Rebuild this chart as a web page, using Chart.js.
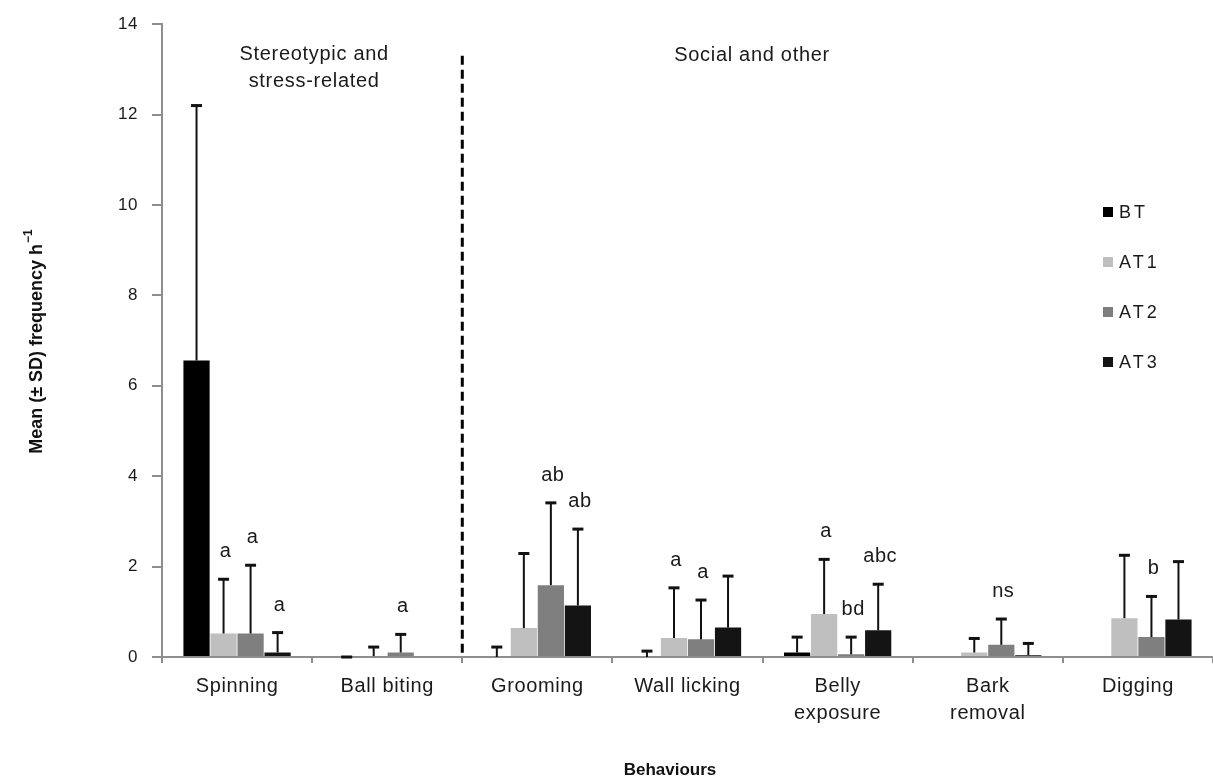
<!DOCTYPE html>
<html><head><meta charset="utf-8">
<script src="https://cdn.jsdelivr.net/npm/chart.js@4.4.1/dist/chart.umd.min.js"></script>
<style>html,body{margin:0;padding:0;background:#fff}#wrap{width:1213px;height:783px;position:relative}</style>
</head><body><div id="wrap"><canvas id="c"></canvas></div>
<script>
// ---- data ----
const categories = ['Spinning', 'Ball biting', 'Grooming', 'Wall licking', ['Belly', 'exposure'], ['Bark', 'removal'], 'Digging'];
const seriesNames = ['BT', 'AT1', 'AT2', 'AT3'];
const BT     = [6.56, 0.00, 0.00, 0.00, 0.10, 0.00, 0.00];
const BT_SD  = [5.64, 0.00, 0.22, 0.13, 0.34, null, null];
const AT1    = [0.52, 0.02, 0.64, 0.42, 0.95, 0.10, 0.86];
const AT1_SD = [1.20, 0.20, 1.65, 1.11, 1.21, 0.31, 1.39];
const AT2    = [0.52, 0.10, 1.59, 0.39, 0.06, 0.27, 0.44];
const AT2_SD = [1.51, 0.40, 1.82, 0.87, 0.38, 0.57, 0.90];
const AT3    = [0.10, 0.00, 1.14, 0.65, 0.59, 0.04, 0.83];
const AT3_SD = [0.44, null, 1.69, 1.14, 1.02, 0.26, 1.28];
const BT_LETTERS  = ['', '', '', '', '', '', ''];
const AT1_LETTERS = ['a', '', '', 'a', 'a', '', ''];
const AT2_LETTERS = ['a', 'a', 'ab', 'a', 'bd', 'ns', 'b'];
const AT3_LETTERS = ['a', '', 'ab', '', 'abc', '', ''];
const yTicks = [0, 2, 4, 6, 8, 10, 12, 14];
const groupTitles = [['Stereotypic and', 'stress-related'], ['Social and other']];
const yTitle = 'Mean (\u00B1 SD) frequency h';
const yTitleSup = '\u22121';
const xTitle = 'Behaviours';

// ---- styles ----
const colors = ['#000000', '#bfbfbf', '#7f7f7f', '#141414'];
const FONT = "'Liberation Sans', Arial, Helvetica, sans-serif";
Chart.defaults.font.family = FONT;

const values = [BT, AT1, AT2, AT3];
const sds = [BT_SD, AT1_SD, AT2_SD, AT3_SD];
const letters = [BT_LETTERS, AT1_LETTERS, AT2_LETTERS, AT3_LETTERS];

const datasets = seriesNames.map((n, i) => ({
  label: n,
  data: values[i],
  sd: sds[i],
  letters: letters[i],
  backgroundColor: colors[i],
  borderWidth: 0,
  categoryPercentage: 0.72,
  barPercentage: 0.97
}));

const overlay = {
  id: 'overlay',
  beforeDraw(chart) { chart.ctx.letterSpacing = '0.6px'; },
  afterDatasetsDraw(chart) {
    const ctx = chart.ctx, y = chart.scales.y;
    ctx.save();
    ctx.strokeStyle = '#111';
    chart.data.datasets.forEach((ds, di) => {
      const meta = chart.getDatasetMeta(di);
      meta.data.forEach((bar, i) => {
        const sd = ds.sd[i];
        if (sd === null || sd === undefined) return;
        const base = y.getPixelForValue(ds.data[i]);
        const top = y.getPixelForValue(ds.data[i] + sd);
        ctx.lineWidth = 2;
        ctx.beginPath(); ctx.moveTo(bar.x, base); ctx.lineTo(bar.x, top); ctx.stroke();
        ctx.lineWidth = 3;
        ctx.beginPath(); ctx.moveTo(bar.x - 5.5, top); ctx.lineTo(bar.x + 5.5, top); ctx.stroke();
      });
    });
    ctx.restore();
  },
  afterDraw(chart) {
    const ctx = chart.ctx, y = chart.scales.y, x = chart.scales.x, area = chart.chartArea;
    ctx.save();
    // significance letters
    ctx.fillStyle = '#1a1a1a';
    ctx.font = '20px ' + FONT;
    ctx.letterSpacing = '0.5px';
    ctx.textAlign = 'center';
    ctx.textBaseline = 'alphabetic';
    chart.data.datasets.forEach((ds, di) => {
      const meta = chart.getDatasetMeta(di);
      meta.data.forEach((bar, i) => {
        const t = ds.letters[i];
        if (!t) return;
        const top = y.getPixelForValue(ds.data[i] + (ds.sd[i] || 0));
        ctx.fillText(t, bar.x + 2, top - 22);
      });
    });
    // dashed divider between groups
    const divX = x.getPixelForValue(1.5);
    ctx.strokeStyle = '#000';
    ctx.lineWidth = 3;
    ctx.setLineDash([9, 5]);
    ctx.beginPath();
    ctx.moveTo(divX, y.getPixelForValue(13.3));
    ctx.lineTo(divX, y.getPixelForValue(0));
    ctx.stroke();
    ctx.setLineDash([]);
    // group titles
    ctx.font = '20px ' + FONT;
    ctx.letterSpacing = '0.7px';
    ctx.fillStyle = '#1a1a1a';
    const g1x = x.getPixelForValue(0.5) + 2;
    groupTitles[0].forEach((line, k) => ctx.fillText(line, g1x, 60 + k * 27));
    const g2x = x.getPixelForValue(3.43);
    groupTitles[1].forEach((line, k) => ctx.fillText(line, g2x, 61 + k * 27));
    // legend
    ctx.textAlign = 'left';
    ctx.textBaseline = 'middle';
    ctx.font = '18px ' + FONT;
    ctx.letterSpacing = '3px';
    chart.data.datasets.forEach((ds, i) => {
      const cy = 212 + i * 50;
      ctx.fillStyle = ds.backgroundColor;
      ctx.fillRect(1103, cy - 5, 10, 10);
      ctx.fillStyle = '#1a1a1a';
      ctx.fillText(ds.label, 1119, cy + 1);
    });
    // x title
    ctx.letterSpacing = '0px';
    ctx.textAlign = 'center';
    ctx.textBaseline = 'alphabetic';
    ctx.font = 'bold 17px ' + FONT;
    ctx.fillStyle = '#111';
    ctx.fillText(xTitle, 670, 775);
    // y title (rotated)
    ctx.translate(37, 342);
    ctx.rotate(-Math.PI / 2);
    ctx.textAlign = 'left';
    ctx.textBaseline = 'middle';
    ctx.font = 'bold 18px ' + FONT;
    const w1 = ctx.measureText(yTitle).width;
    ctx.font = 'bold 12px ' + FONT;
    const w2 = ctx.measureText(yTitleSup).width;
    const sx = -(w1 + w2) / 2;
    ctx.font = 'bold 18px ' + FONT;
    ctx.fillText(yTitle, sx, 0);
    ctx.font = 'bold 12px ' + FONT;
    ctx.fillText(yTitleSup, sx + w1 + 1, -8);
    ctx.restore();
  }
};

new Chart(document.getElementById('c'), {
  type: 'bar',
  data: { labels: categories, datasets },
  options: {
    responsive: true,
    maintainAspectRatio: false,
    animation: false,
    layout: { padding: { top: 18, left: 0, right: 0, bottom: 0 } },
    plugins: { legend: { display: false }, tooltip: { enabled: false } },
    scales: {
      x: {
        offset: true,
        ticks: { color: '#1a1a1a', font: { size: 20, lineHeight: 1.35 }, padding: 10, autoSkip: false, maxRotation: 0, minRotation: 0 },
        grid: { offset: true, drawOnChartArea: false, drawTicks: true, tickLength: 6, color: '#8e8e8e', lineWidth: 2 },
        border: { color: '#8e8e8e', width: 2 },
        afterFit(s) { s.height = 126; }
      },
      y: {
        min: 0, max: 14,
        afterBuildTicks(s) { s.ticks = yTicks.map(v => ({ value: v })); },
        ticks: { color: '#1a1a1a', font: { size: 17 }, padding: 14 },
        grid: { drawOnChartArea: false, drawTicks: true, tickLength: 10, color: '#8e8e8e', lineWidth: 2 },
        border: { color: '#8e8e8e', width: 2 },
        afterFit(s) { s.width = 162; }
      }
    }
  },
  plugins: [overlay]
});
</script>
</body></html>
